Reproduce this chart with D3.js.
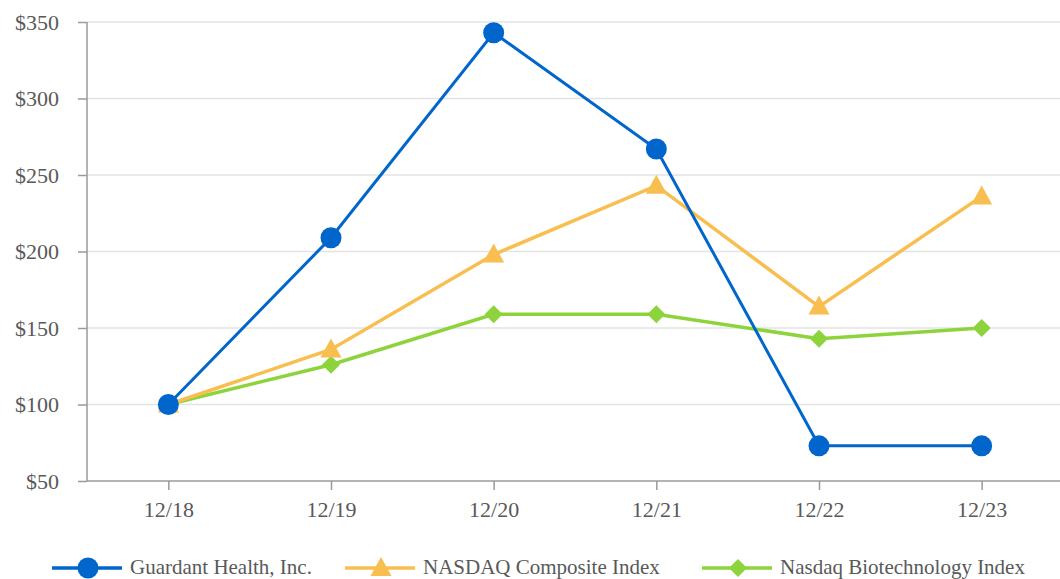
<!DOCTYPE html>
<html>
<head>
<meta charset="utf-8">
<script src="https://cdn.jsdelivr.net/npm/d3@7"></script>
<style>
  body { margin: 0; background: #fff; }
  text { font-family: "Liberation Serif", "Times New Roman", serif; }
</style>
</head>
<body>
<div class="chart"></div>
<script>
// data
var years = ["12/18", "12/19", "12/20", "12/21", "12/22", "12/23"];
var guardant = [100, 209, 343, 267, 73, 73];
var nasdaqComp = [100, 136, 198, 243, 164, 236];
var nasdaqBio = [100, 126, 159, 159, 143, 150];
var yTicks = [50, 100, 150, 200, 250, 300, 350];

var svgWidth = 1060;
var svgHeight = 579;

var margin = { top: 22, right: -3, bottom: 98, left: 87 };
var width = svgWidth - margin.left - margin.right;
var height = svgHeight - margin.top - margin.bottom;

var svg = d3.select(".chart")
  .append("svg")
  .attr("width", svgWidth)
  .attr("height", svgHeight);

var chartGroup = svg.append("g")
  .attr("transform", `translate(${margin.left}, ${margin.top})`);

// scales
var xScale = d3.scalePoint()
  .domain(years)
  .range([0, width])
  .padding(0.5);

var yScale = d3.scaleLinear()
  .domain([50, 350])
  .range([height, 0]);

// gridlines
chartGroup.selectAll(".grid")
  .data(yTicks.slice(1))
  .enter()
  .append("line")
  .attr("x1", 0)
  .attr("x2", width)
  .attr("y1", d => yScale(d))
  .attr("y2", d => yScale(d))
  .attr("stroke", "#e3e3e3")
  .attr("stroke-width", 1.5);

// axes
var yAxis = d3.axisLeft(yScale)
  .tickValues(yTicks)
  .tickSize(9)
  .tickPadding(19)
  .tickFormat(d => "$" + d);

var xAxis = d3.axisBottom(xScale)
  .tickSize(9)
  .tickPadding(11);

var yG = chartGroup.append("g").call(yAxis);
var xG = chartGroup.append("g")
  .attr("transform", `translate(0, ${height})`)
  .call(xAxis);

[yG, xG].forEach(function(g) {
  g.attr("font-family", "Liberation Serif, Times New Roman, serif");
  g.select(".domain").attr("stroke", "#9a9a9a").attr("stroke-width", 1.5);
  g.selectAll(".tick line").attr("stroke", "#9a9a9a").attr("stroke-width", 1.5);
  g.selectAll(".tick text")
    .attr("fill", "#595959")
    .style("font-size", "22px");
});
xG.select(".domain").attr("d", `M0,0H${width}`);
yG.select(".domain").attr("d", `M0,0V${height}`);

var series = [
  { name: "Guardant Health, Inc.", values: guardant, color: "#0066cc", symbol: "circle", width: 3 },
  { name: "NASDAQ Composite Index", values: nasdaqComp, color: "#f8be50", symbol: "triangle", width: 3.5 },
  { name: "Nasdaq Biotechnology Index", values: nasdaqBio, color: "#8dd43c", symbol: "diamond", width: 3.5 }
];

var line = d3.line()
  .x((d, i) => xScale(years[i]))
  .y(d => yScale(d));

function drawMarker(g, s, x, y) {
  if (s.symbol === "circle") {
    g.append("circle")
      .attr("cx", x).attr("cy", y).attr("r", 10.5)
      .attr("fill", s.color);
  } else if (s.symbol === "triangle") {
    g.append("path")
      .attr("d", `M${x},${y - 11}L${x + 10.5},${y + 8}L${x - 10.5},${y + 8}Z`)
      .attr("fill", s.color);
  } else {
    g.append("path")
      .attr("d", `M${x},${y - 9}L${x + 9},${y}L${x},${y + 9}L${x - 9},${y}Z`)
      .attr("fill", s.color);
  }
}

// draw in reverse so Guardant sits on top
series.slice().reverse().forEach(function(s) {
  chartGroup.append("path")
    .datum(s.values)
    .attr("d", line)
    .attr("fill", "none")
    .attr("stroke", s.color)
    .attr("stroke-width", s.width);
  var mg = chartGroup.append("g");
  s.values.forEach(function(v, i) {
    drawMarker(mg, s, xScale(years[i]), yScale(v));
  });
});

// legend
var legendX = [52, 345, 702];
var legend = svg.append("g").attr("transform", "translate(0, 568)");
series.forEach(function(s, i) {
  var lg = legend.append("g").attr("transform", `translate(${legendX[i]}, 0)`);
  lg.append("line")
    .attr("x1", 0).attr("x2", 70)
    .attr("y1", 0).attr("y2", 0)
    .attr("stroke", s.color)
    .attr("stroke-width", 3.5);
  drawMarker(lg, s, 36, 0);
  lg.append("text")
    .attr("x", 78)
    .attr("y", 6)
    .attr("fill", "#595959")
    .style("font-size", "21px")
    .text(s.name);
});
</script>
</body>
</html>
